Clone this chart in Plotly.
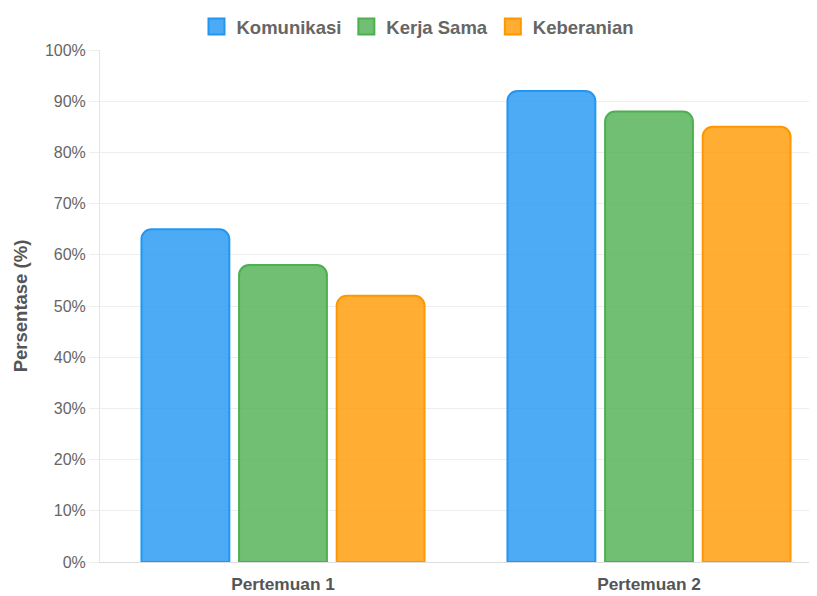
import plotly.graph_objects as go

categories = ["Pertemuan 1", "Pertemuan 2"]
series_names = ["Komunikasi", "Kerja Sama", "Keberanian"]
komunikasi = [65, 92]
kerja_sama = [58, 88]
keberanian = [52, 85]
y_ticks = [0, 10, 20, 30, 40, 50, 60, 70, 80, 90, 100]
y_tick_labels = [f"{v}%" for v in y_ticks]

values = [komunikasi, kerja_sama, keberanian]
fills = ["rgba(33,150,243,0.8)", "rgba(76,175,80,0.8)", "rgba(255,152,0,0.8)"]
borders = ["#2196F3", "#4CAF50", "#FF9800"]

FONT = "Liberation Sans, Arial, Helvetica, sans-serif"
GRID = "#eeeeee"

fig = go.Figure()
for name, vals, fc, bc in zip(series_names, values, fills, borders):
    fig.add_trace(go.Bar(
        x=categories, y=vals, name=name, showlegend=False,
        marker=dict(color=fc, line=dict(color=bc, width=2), cornerradius=10),
        hovertemplate="%{x}<br>" + name + ": %{y}%<extra></extra>",
    ))
# legend entries
for name, fc, bc in zip(series_names, fills, borders):
    fig.add_trace(go.Scatter(
        x=[None], y=[None], mode="markers", name=name,
        marker=dict(symbol="square", size=16, color=fc, line=dict(color=bc, width=2)),
    ))

fig.update_layout(
    width=809, height=588,
    margin=dict(l=92, r=0, t=42, b=34),
    paper_bgcolor="white", plot_bgcolor="white",
    barmode="group", bargap=0.2, bargroupgap=0.1,
    font=dict(family=FONT, color="#666"),
    legend=dict(
        orientation="h", x=0.4435, xanchor="center", y=1.045, yanchor="middle",
        font=dict(size=18.5, color="#666", family=FONT, weight="bold"),
        itemwidth=30, bgcolor="rgba(0,0,0,0)",
    ),
    xaxis=dict(
        type="category", range=[-0.5, 1.459],
        showgrid=False, showline=True, linecolor="#dddddd", linewidth=1,
        ticks="", ticklabelstandoff=6,
        tickfont=dict(size=17.3, color="#555", family=FONT, weight="bold"),
        automargin=False, fixedrange=True,
    ),
    yaxis=dict(
        range=[0, 100], tickvals=y_ticks, ticktext=y_tick_labels,
        showgrid=True, gridcolor=GRID, gridwidth=1,
        showline=True, linecolor="#e5e5e5", linewidth=1,
        ticks="outside", ticklen=10, tickcolor=GRID,
        tickfont=dict(size=16, color="#666", family=FONT),
        zeroline=False, automargin=False,
        title=dict(text="Persentase (%)", font=dict(size=18.5, color="#555", family=FONT, weight="bold"), standoff=12),
    ),
)

fig.write_html("out.html")
